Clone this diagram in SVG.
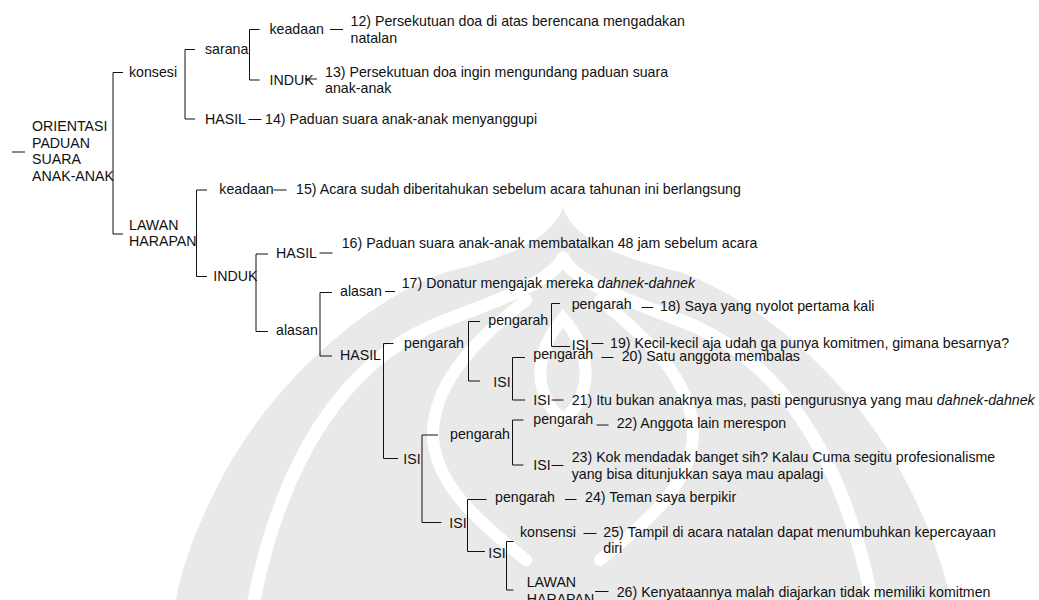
<svg xmlns="http://www.w3.org/2000/svg" width="1039" height="600" viewBox="0 0 1039 600">
  <style>
    text { font-family: "Liberation Sans", Arial, sans-serif; font-size: 14.2px; fill: #111; }
    .it { font-style: italic; }
    #connectors line, #connectors path { stroke: #111; stroke-width: 1; fill: none; }
    .wm { fill: #e9e9e9; }
    .wg { fill: none; stroke: #ffffff; stroke-linecap: round; }
  </style>
  <rect width="1039" height="600" fill="#ffffff"/>

  <!-- faint emblem behind the tree -->
  <g id="emblem">
    <path class="wm" d="M563,208 C575,240 620,258 680,272 C760,300 850,380 900,470 C930,525 945,570 950,600 L176,600 C181,570 196,525 226,470 C276,380 366,300 446,272 C506,258 551,240 563,208 Z"/>
    <path class="wg" stroke-width="13" d="M563,258 C578,286 636,302 694,326 C776,362 842,450 872,600"/>
    <path class="wg" stroke-width="13" d="M563,258 C548,286 490,302 432,326 C350,362 284,450 254,600"/>
    <path class="wg" stroke-width="12" d="M563,318 C590,350 596,392 563,420 C530,392 536,350 563,318 Z"/>
    <path class="wg" stroke-width="12" d="M600,300 C650,340 690,380 693,430 C695,480 650,520 600,560"/>
    <path class="wg" stroke-width="12" d="M526,300 C476,340 436,380 433,430 C431,480 476,520 526,560"/>
  </g>

  <!-- brackets and dashes -->
  <g id="connectors">
    <line x1="12" y1="152" x2="25" y2="152"/>
    <path d="M123,72.5 H113 V234 H123"/>
    <path d="M195,49.5 H185 V119 H195"/>
    <path d="M259.5,29.5 H249.5 V80 H259.5"/>
    <line x1="330" y1="29.5" x2="343" y2="29.5"/>
    <line x1="305" y1="79" x2="317" y2="79"/>
    <line x1="248.5" y1="119.5" x2="261.5" y2="119.5"/>
    <path d="M207,190 H196.5 V276.5 H207"/>
    <line x1="273.5" y1="190" x2="286.5" y2="190"/>
    <path d="M268,254 H256 V331.5 H268"/>
    <line x1="319.5" y1="253" x2="332.5" y2="253"/>
    <path d="M332,292.5 H320 V356 H332"/>
    <line x1="385" y1="291.5" x2="395" y2="291.5"/>
    <path d="M393.5,343.5 H383.5 V458.5 H398"/>
    <path d="M480,321.5 H468.5 V381 H480"/>
    <path d="M560,303.5 H551.5 V346.5 H570"/>
    <line x1="641.5" y1="307.5" x2="653" y2="307.5"/>
    <line x1="591.5" y1="343.5" x2="603.5" y2="343.5"/>
    <path d="M525,357.5 H512.5 V400 H525"/>
    <line x1="601.5" y1="357.5" x2="613.5" y2="357.5"/>
    <line x1="551.5" y1="400" x2="563.5" y2="400"/>
    <path d="M438,435 H422 V522.5 H441.5"/>
    <path d="M523.5,420 H512.5 V465 H523.5"/>
    <line x1="596.5" y1="425" x2="608.5" y2="425"/>
    <line x1="551.5" y1="465.5" x2="563.5" y2="465.5"/>
    <path d="M486.5,499.5 H467.5 V551.5 H485"/>
    <line x1="565" y1="499.5" x2="576.5" y2="499.5"/>
    <path d="M513.5,541.5 H506.5 V590 H513.5"/>
    <line x1="583.5" y1="533.5" x2="596.5" y2="533.5"/>
    <line x1="595" y1="591.5" x2="608.5" y2="591.5"/>
  </g>

  <g id="n-root"><text x="32" y="131">ORIENTASI</text><text x="32" y="147.5">PADUAN</text><text x="32" y="164">SUARA</text><text x="32" y="180.5">ANAK-ANAK</text></g>
  <g id="n-konsesi"><text x="129" y="76.5">konsesi</text></g>
  <g id="n-lawan-harapan"><text x="129" y="229.5">LAWAN</text><text x="129" y="246">HARAPAN</text></g>
  <g id="n-sarana"><text x="205" y="53.5">sarana</text></g>
  <g id="n-hasil-a"><text x="205" y="123.5">HASIL</text></g>
  <g id="n-keadaan-a"><text x="269.5" y="33.5">keadaan</text></g>
  <g id="n-12"><text x="350.5" y="26">12) Persekutuan doa di atas berencana mengadakan</text><text x="350.5" y="42.5">natalan</text></g>
  <g id="n-induk-a"><text x="269.5" y="84.5">INDUK</text></g>
  <g id="n-13"><text x="325" y="76.7">13) Persekutuan doa ingin mengundang paduan suara</text><text x="325" y="93.2">anak-anak</text></g>
  <g id="n-14"><text x="265" y="123.5">14) Paduan suara anak-anak menyanggupi</text></g>
  <g id="n-keadaan-b"><text x="219.3" y="194">keadaan</text></g>
  <g id="n-15"><text x="296" y="194">15) Acara sudah diberitahukan sebelum acara tahunan ini berlangsung</text></g>
  <g id="n-induk-b"><text x="213.3" y="281">INDUK</text></g>
  <g id="n-hasil-b"><text x="276" y="257.5">HASIL</text></g>
  <g id="n-16"><text x="341.7" y="248">16) Paduan suara anak-anak membatalkan 48 jam sebelum acara</text></g>
  <g id="n-alasan-a"><text x="276" y="334.5">alasan</text></g>
  <g id="n-alasan-b"><text x="340" y="296">alasan</text></g>
  <g id="n-17"><text x="401.7" y="288">17) Donatur mengajak mereka <tspan class="it">dahnek-dahnek</tspan></text></g>
  <g id="n-hasil-c"><text x="340" y="359.5">HASIL</text></g>
  <g id="n-pengarah-a"><text x="404" y="348">pengarah</text></g>
  <g id="n-pengarah-b"><text x="488.3" y="324.5">pengarah</text></g>
  <g id="n-pengarah-c"><text x="571.7" y="309">pengarah</text></g>
  <g id="n-18"><text x="660" y="311">18) Saya yang nyolot pertama kali</text></g>
  <g id="n-isi-a"><text x="571.7" y="350">ISI</text></g>
  <g id="n-19"><text x="610" y="347.5">19) Kecil-kecil aja udah ga punya komitmen, gimana besarnya?</text></g>
  <g id="n-isi-b"><text x="493.3" y="386.5">ISI</text></g>
  <g id="n-pengarah-d"><text x="533.3" y="359">pengarah</text></g>
  <g id="n-20"><text x="621.7" y="361">20) Satu anggota membalas</text></g>
  <g id="n-isi-c"><text x="533.3" y="405">ISI</text></g>
  <g id="n-21"><text x="571.7" y="405">21) Itu bukan anaknya mas, pasti pengurusnya yang mau <tspan class="it">dahnek-dahnek</tspan></text></g>
  <g id="n-isi-d"><text x="403.3" y="463.5">ISI</text></g>
  <g id="n-pengarah-e"><text x="450" y="439">pengarah</text></g>
  <g id="n-pengarah-f"><text x="533.3" y="424">pengarah</text></g>
  <g id="n-22"><text x="616.7" y="428">22) Anggota lain merespon</text></g>
  <g id="n-isi-e"><text x="533.3" y="469.5">ISI</text></g>
  <g id="n-23"><text x="571.7" y="462">23) Kok mendadak banget sih? Kalau Cuma segitu profesionalisme</text><text x="571.7" y="478.5">yang bisa ditunjukkan saya mau apalagi</text></g>
  <g id="n-isi-f"><text x="449.3" y="528">ISI</text></g>
  <g id="n-pengarah-g"><text x="495" y="501.5">pengarah</text></g>
  <g id="n-24"><text x="585" y="501.5">24) Teman saya berpikir</text></g>
  <g id="n-isi-g"><text x="488.3" y="557.5">ISI</text></g>
  <g id="n-konsensi"><text x="520" y="537">konsensi</text></g>
  <g id="n-25"><text x="603.3" y="536.7">25) Tampil di acara natalan dapat menumbuhkan kepercayaan</text><text x="603.3" y="553.2">diri</text></g>
  <g id="n-lawan-harapan-b"><text x="526.7" y="587">LAWAN</text><text x="526.7" y="603.5">HARAPAN</text></g>
  <g id="n-26"><text x="616.7" y="596.5">26) Kenyataannya malah diajarkan tidak memiliki komitmen</text></g>
</svg>
